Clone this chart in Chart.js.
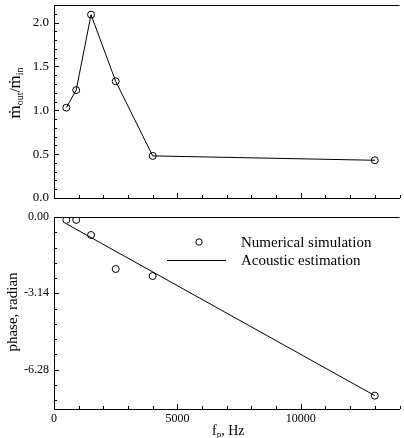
<!DOCTYPE html>
<html>
<head>
<meta charset="utf-8">
<script src="https://cdn.jsdelivr.net/npm/chart.js@4"></script>
<style>
  body { margin: 0; background: #fff; }
  #wrap { position: relative; width: 404px; height: 438px; }
  canvas { position: absolute; left: 0; }
</style>
</head>
<body>
<div id="wrap">
  <canvas id="topChart" width="404" height="205" style="top:0"></canvas>
  <canvas id="botChart" width="404" height="233" style="top:205px"></canvas>
</div>
<script>
// données
const freqs = [500, 900, 1500, 2500, 4000, 13000];
const massRatio = [1.03, 1.23, 2.09, 1.33, 0.48, 0.43];
const phaseSim = [-0.12, -0.12, -0.74, -2.14, -2.43, -7.35];
const acousticFreq = [500, 13000];
const acousticPhase = [-0.28, -7.35];

const xTicks = [0, 5000, 10000];
const topYTicks = [0, 0.5, 1.0, 1.5, 2.0];
const botYTicks = [0, -3.14, -6.28];

const SERIF = '"Liberation Serif", "DejaVu Serif", serif';
const INK = '#000';

// taille fixe des axes pour caler la zone de tracé (sans marge auto des étiquettes)
function fixWidth(w) {
  return s => { s.width = w; s.paddingTop = 0; s.paddingBottom = 0; };
}
function fixHeight(h) {
  return s => { s.height = h; s.paddingLeft = 0; s.paddingRight = 0; };
}
function setTicks(list) { return s => { s.ticks = list.map(v => ({ value: v })); }; }

// petites graduations tournées vers l'intérieur
const innerTicks = {
  id: 'innerTicks',
  afterDraw(chart, args, opts) {
    const { ctx, chartArea: a, scales: { x, y } } = chart;
    ctx.save();
    ctx.strokeStyle = INK;
    ctx.lineWidth = 1;
    ctx.beginPath();
    for (let v = x.min; v <= x.max; v += 1000) {
      const px = Math.round(x.getPixelForValue(v)) + 0.5;
      const len = v % 5000 === 0 ? 5 : 3;
      ctx.moveTo(px, a.bottom); ctx.lineTo(px, a.bottom - len);
    }
    opts.yMajor.forEach((v, i) => {
      const py = Math.round(y.getPixelForValue(v)) + 0.5;
      ctx.moveTo(a.left, py); ctx.lineTo(a.left + 5, py);
      const next = opts.yMajor[i + 1];
      const step = (next !== undefined ? next - v : opts.yStep) / 5;
      for (let k = 1; k < 5; k++) {
        const mv = v + step * k;
        if (mv < y.min || mv > y.max) continue;
        const my = Math.round(y.getPixelForValue(mv)) + 0.5;
        ctx.moveTo(a.left, my); ctx.lineTo(a.left + 3, my);
      }
    });
    // bord supérieur
    ctx.moveTo(a.left, a.top + 0.5); ctx.lineTo(a.right, a.top + 0.5);
    ctx.stroke();
    ctx.restore();
  }
};

// titres d'axes et légende
const labels = {
  id: 'labels',
  afterDraw(chart, args, opts) {
    const ctx = chart.ctx;
    ctx.save();
    ctx.fillStyle = INK;
    ctx.textBaseline = 'middle';
    if (opts.which === 'top') {
      // ṁout/ṁin vertical
      ctx.translate(16, 93);
      ctx.rotate(-Math.PI / 2);
      const parts = [
        ['\u1E41', 17, 0], ['out', 10, 4], ['/', 15, 0], ['\u1E41', 17, 0], ['in', 10, 4]
      ];
      let total = 0;
      parts.forEach(p => { ctx.font = p[1] + 'px ' + SERIF; total += ctx.measureText(p[0]).width; });
      let cx = -total / 2;
      ctx.textAlign = 'left';
      parts.forEach(p => {
        ctx.font = p[1] + 'px ' + SERIF;
        ctx.fillText(p[0], cx, p[2]);
        cx += ctx.measureText(p[0]).width;
      });
    } else {
      const off = 205;
      // titre y
      ctx.save();
      ctx.translate(13, 312 - off);
      ctx.rotate(-Math.PI / 2);
      ctx.font = '15px ' + SERIF;
      ctx.textAlign = 'center';
      ctx.fillText('phase, radian', 0, 0);
      ctx.restore();
      // titre x
      ctx.textAlign = 'left';
      let cx = 212;
      ctx.font = '14px ' + SERIF;
      ctx.fillText('f', cx, 431 - off); cx += ctx.measureText('f').width;
      ctx.font = '9px ' + SERIF;
      ctx.fillText('p', cx, 435 - off); cx += ctx.measureText('p').width;
      ctx.font = '14px ' + SERIF;
      ctx.fillText(', Hz', cx, 431 - off);
      // légende
      ctx.strokeStyle = INK;
      ctx.lineWidth = 1;
      ctx.beginPath();
      ctx.arc(199, 242 - off, 3.2, 0, Math.PI * 2);
      ctx.stroke();
      ctx.beginPath();
      ctx.moveTo(167, 260.5 - off); ctx.lineTo(226, 260.5 - off);
      ctx.stroke();
      ctx.font = '15px ' + SERIF;
      ctx.fillText('Numerical simulation', 241, 243 - off);
      ctx.fillText('Acoustic estimation', 241, 261 - off);
    }
    ctx.restore();
  }
};

Chart.defaults.font.family = SERIF;
Chart.defaults.color = INK;
Chart.defaults.animation = false;

const pointStyle = {
  pointRadius: 3.5, pointHoverRadius: 3.5,
  pointBorderColor: INK, pointBackgroundColor: 'rgba(0,0,0,0)', pointBorderWidth: 1
};

new Chart(document.getElementById('topChart'), {
  type: 'line',
  data: {
    datasets: [{
      data: freqs.map((f, i) => ({ x: f, y: massRatio[i] })),
      borderColor: INK, borderWidth: 1, tension: 0, fill: false,
      ...pointStyle
    }]
  },
  options: {
    responsive: false,
    devicePixelRatio: 1,
    layout: { padding: { top: 5, left: 0, right: 0, bottom: 0 } },
    plugins: { legend: { display: false }, tooltip: { enabled: false },
      innerTicks: { yMajor: topYTicks, yStep: 0.5 }, labels: { which: 'top' } },
    scales: {
      x: {
        type: 'linear', min: 0, max: 14000,
        afterBuildTicks: setTicks(xTicks), afterFit: fixHeight(7),
        grid: { display: false, drawTicks: false },
        border: { display: true, color: INK, width: 1 },
        ticks: { display: false }
      },
      y: {
        min: 0, max: 2.2,
        afterBuildTicks: setTicks(topYTicks), afterFit: fixWidth(54),
        grid: { display: false, drawTicks: false },
        border: { display: true, color: INK, width: 1 },
        ticks: { padding: 5, font: { size: 13 }, callback: v => v.toFixed(1) }
      }
    }
  },
  plugins: [innerTicks, labels]
});

new Chart(document.getElementById('botChart'), {
  type: 'scatter',
  data: {
    datasets: [{
      data: freqs.map((f, i) => ({ x: f, y: phaseSim[i] })),
      showLine: false,
      ...pointStyle
    }, {
      data: acousticFreq.map((f, i) => ({ x: f, y: acousticPhase[i] })),
      showLine: true, borderColor: INK, borderWidth: 1, pointRadius: 0, pointHoverRadius: 0
    }]
  },
  options: {
    responsive: false,
    devicePixelRatio: 1,
    layout: { padding: { top: 12, left: 0, right: 0, bottom: 0 } },
    plugins: { legend: { display: false }, tooltip: { enabled: false },
      innerTicks: { yMajor: botYTicks, yStep: -3.14 }, labels: { which: 'bot' } },
    scales: {
      x: {
        type: 'linear', min: 0, max: 14000,
        afterBuildTicks: setTicks(xTicks), afterFit: fixHeight(29),
        grid: { display: false, drawTicks: false },
        border: { display: true, color: INK, width: 1 },
        ticks: { padding: 3, font: { size: 12 }, maxRotation: 0, callback: v => String(v) }
      },
      y: {
        min: -7.9, max: 0,
        afterBuildTicks: setTicks(botYTicks), afterFit: fixWidth(54),
        grid: { display: false, drawTicks: false },
        border: { display: true, color: INK, width: 1 },
        ticks: { padding: 5, font: { size: 12 }, callback: v => v.toFixed(2) }
      }
    }
  },
  plugins: [innerTicks, labels]
});
</script>
</body>
</html>
